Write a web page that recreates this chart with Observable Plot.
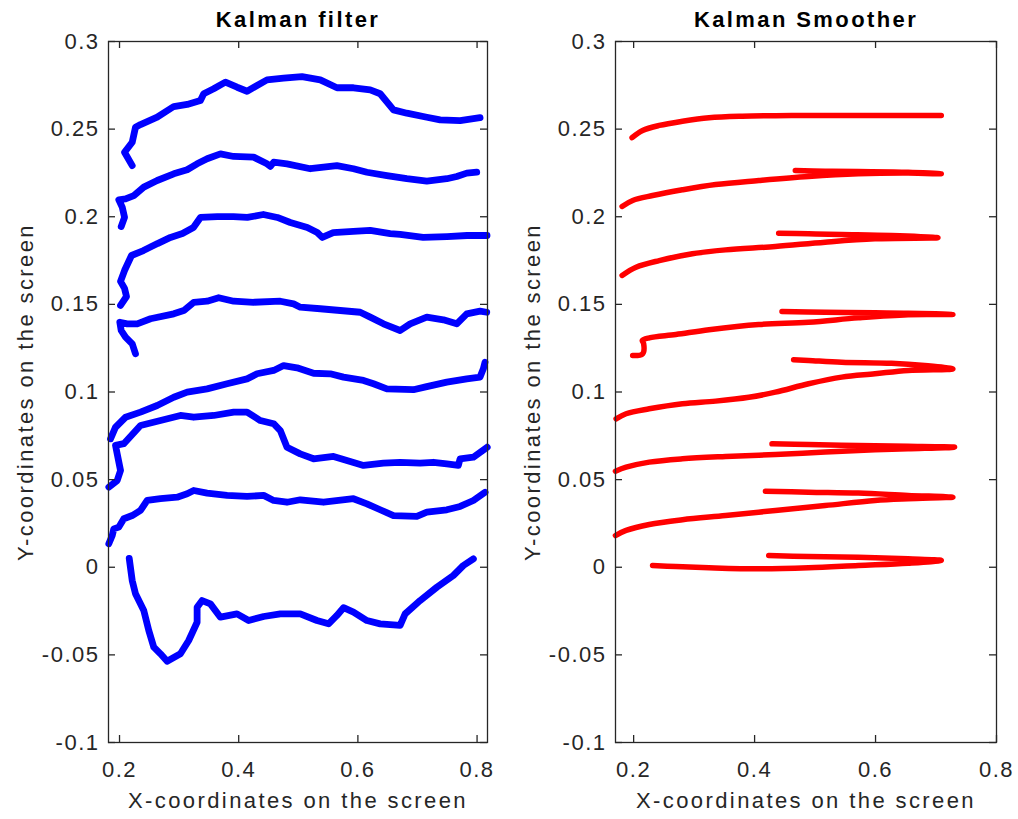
<!DOCTYPE html>
<html><head><meta charset="utf-8">
<script src="https://cdn.jsdelivr.net/npm/d3@7"></script>
<script src="https://cdn.jsdelivr.net/npm/@observablehq/plot@0.6"></script>
<style>
body{margin:0;background:#fff;}
#wrap{display:flex;width:1018px;height:819px;overflow:hidden;}
#wrap svg text{letter-spacing:2.4px;}
#wrap svg g[aria-label$="tick label"] text{letter-spacing:1.5px;}
</style></head><body><div id="wrap"></div>
<script>
const xTicks=[0.2,0.4,0.6,0.8];
const xTickLabels=["0.2","0.4","0.6","0.8"];
const yTicks=[-0.1,-0.05,0,0.05,0.1,0.15,0.2,0.25,0.3];
const yTickLabels=["-0.1","-0.05","0","0.05","0.1","0.15","0.2","0.25","0.3"];
const filterTitle="Kalman filter";
const smootherTitle="Kalman Smoother";
const xLabel="X-coordinates on the screen";
const yLabel="Y-coordinates on the screen";
const filterXDomain=[0.1815,0.8175];
const smootherXDomain=[0.17,0.8];
const yDomain=[-0.1,0.3];

const filter1=[[0.2213,0.2292],[0.2084,0.2368],[0.2213,0.2425],[0.2268,0.2511],[0.2352,0.2526],[0.2632,0.2568],[0.2910,0.2629],[0.3135,0.2641],[0.3358,0.2663],[0.3413,0.2702],[0.3580,0.2730],[0.3777,0.2768],[0.3973,0.2739],[0.4140,0.2716],[0.4308,0.2749],[0.4475,0.2781],[0.4754,0.2791],[0.5062,0.2800],[0.5369,0.2781],[0.5649,0.2736],[0.5927,0.2736],[0.6207,0.2724],[0.6374,0.2702],[0.6597,0.2610],[0.6822,0.2591],[0.7157,0.2568],[0.7380,0.2553],[0.7715,0.2549],[0.8050,0.2565]];
const filter2=[[0.2028,0.1944],[0.2084,0.1997],[0.2045,0.2055],[0.1988,0.2097],[0.2101,0.2102],[0.2240,0.2121],[0.2407,0.2169],[0.2632,0.2207],[0.2910,0.2245],[0.3135,0.2268],[0.3302,0.2302],[0.3470,0.2331],[0.3693,0.2359],[0.3916,0.2344],[0.4251,0.2340],[0.4475,0.2302],[0.4531,0.2287],[0.4586,0.2311],[0.4810,0.2302],[0.5201,0.2274],[0.5648,0.2292],[0.5926,0.2274],[0.6151,0.2254],[0.6486,0.2235],[0.6821,0.2217],[0.7157,0.2203],[0.7492,0.2217],[0.7659,0.2230],[0.7827,0.2249],[0.7994,0.2254]];
const filter3=[[0.2017,0.1494],[0.2117,0.1545],[0.2084,0.1591],[0.2017,0.1631],[0.2084,0.1693],[0.2201,0.1779],[0.2402,0.1807],[0.2637,0.1847],[0.2855,0.1882],[0.3056,0.1904],[0.3240,0.1939],[0.3358,0.1996],[0.3642,0.2001],[0.3911,0.2001],[0.4145,0.1996],[0.4413,0.2013],[0.4648,0.1996],[0.4866,0.1967],[0.5151,0.1939],[0.5318,0.1910],[0.5402,0.1882],[0.5586,0.1910],[0.5922,0.1916],[0.6207,0.1922],[0.6542,0.1904],[0.6709,0.1899],[0.7095,0.1882],[0.7497,0.1887],[0.7832,0.1893],[0.8167,0.1893]];
const filter4=[[0.2268,0.1218],[0.2213,0.1275],[0.2101,0.1313],[0.2028,0.1351],[0.2005,0.1398],[0.2129,0.1389],[0.2297,0.1389],[0.2520,0.1418],[0.2910,0.1446],[0.3078,0.1465],[0.3245,0.1512],[0.3470,0.1518],[0.3664,0.1538],[0.3916,0.1518],[0.4251,0.1512],[0.4698,0.1518],[0.4921,0.1503],[0.5033,0.1484],[0.5369,0.1475],[0.5704,0.1465],[0.6039,0.1455],[0.6207,0.1427],[0.6429,0.1389],[0.6709,0.1351],[0.6877,0.1389],[0.7156,0.1427],[0.7435,0.1412],[0.7659,0.1389],[0.7827,0.1446],[0.8050,0.1461],[0.8162,0.1455]];
const filter5=[[0.1849,0.0733],[0.1933,0.0799],[0.2101,0.0856],[0.2352,0.0885],[0.2632,0.0923],[0.2910,0.0970],[0.3135,0.0999],[0.3470,0.1018],[0.3805,0.1047],[0.4140,0.1075],[0.4308,0.1104],[0.4586,0.1123],[0.4754,0.1151],[0.4978,0.1138],[0.5256,0.1107],[0.5536,0.1104],[0.5759,0.1085],[0.6094,0.1066],[0.6262,0.1047],[0.6486,0.1018],[0.6932,0.1013],[0.7156,0.1031],[0.7492,0.1056],[0.7827,0.1075],[0.8050,0.1085],[0.8105,0.1132],[0.8134,0.1170]];
const filter6=[[0.1821,0.0457],[0.1961,0.0495],[0.2017,0.0552],[0.1961,0.0647],[0.1933,0.0695],[0.2072,0.0705],[0.2352,0.0809],[0.2687,0.0837],[0.3022,0.0866],[0.3245,0.0856],[0.3580,0.0866],[0.3916,0.0885],[0.4140,0.0885],[0.4363,0.0837],[0.4586,0.0819],[0.4698,0.0780],[0.4810,0.0685],[0.5033,0.0647],[0.5256,0.0619],[0.5591,0.0632],[0.5815,0.0609],[0.6094,0.0581],[0.6429,0.0594],[0.6709,0.0599],[0.7044,0.0594],[0.7268,0.0599],[0.7492,0.0590],[0.7686,0.0581],[0.7715,0.0619],[0.7938,0.0628],[0.8170,0.0685]];
const filter7=[[0.1820,0.0134],[0.1878,0.0181],[0.1904,0.0219],[0.1988,0.0229],[0.2072,0.0277],[0.2213,0.0295],[0.2352,0.0324],[0.2464,0.0381],[0.2687,0.0391],[0.2967,0.0400],[0.3135,0.0419],[0.3245,0.0438],[0.3470,0.0423],[0.3805,0.0410],[0.4140,0.0404],[0.4418,0.0410],[0.4586,0.0381],[0.4810,0.0371],[0.5033,0.0385],[0.5424,0.0371],[0.5926,0.0391],[0.6151,0.0362],[0.6374,0.0328],[0.6597,0.0295],[0.6989,0.0290],[0.7157,0.0314],[0.7492,0.0328],[0.7715,0.0347],[0.7938,0.0381],[0.8134,0.0428]];
const filter8=[[0.2163,0.0050],[0.2213,-0.0076],[0.2268,-0.0151],[0.2407,-0.0247],[0.2491,-0.0361],[0.2575,-0.0456],[0.2687,-0.0494],[0.2799,-0.0536],[0.3022,-0.0494],[0.3161,-0.0418],[0.3302,-0.0314],[0.3302,-0.0228],[0.3386,-0.0190],[0.3525,-0.0209],[0.3693,-0.0285],[0.3972,-0.0266],[0.4167,-0.0304],[0.4418,-0.0281],[0.4698,-0.0266],[0.5033,-0.0266],[0.5313,-0.0304],[0.5508,-0.0323],[0.5648,-0.0275],[0.5759,-0.0231],[0.5926,-0.0256],[0.6151,-0.0304],[0.6374,-0.0323],[0.6709,-0.0332],[0.6793,-0.0266],[0.7044,-0.0190],[0.7324,-0.0114],[0.7602,-0.0047],[0.7770,0.0010],[0.7938,0.0048]];

const smoother1=[[0.1974,0.2451],[0.2148,0.2492],[0.2423,0.2521],[0.2807,0.2545],[0.3246,0.2565],[0.3794,0.2574],[0.4617,0.2578],[0.5440,0.2578],[0.6264,0.2578],[0.7087,0.2578]];
const smoother2=[[0.1809,0.2059],[0.1984,0.2093],[0.2313,0.2121],[0.2807,0.2154],[0.3356,0.2184],[0.4069,0.2207],[0.4892,0.2230],[0.5715,0.2245],[0.6538,0.2249],[0.7087,0.2245],[0.6538,0.2254],[0.5715,0.2258],[0.5167,0.2260],[0.4673,0.2264]];
const smoother3=[[0.1809,0.1665],[0.2040,0.1712],[0.2423,0.1750],[0.2971,0.1789],[0.3521,0.1811],[0.4344,0.1830],[0.5167,0.1855],[0.5990,0.1874],[0.7032,0.1880],[0.6264,0.1893],[0.5440,0.1899],[0.4892,0.1903],[0.4398,0.1906]];
const smoother4=[[0.1984,0.1208],[0.2148,0.1218],[0.2165,0.1277],[0.2143,0.1294],[0.2258,0.1309],[0.2698,0.1328],[0.3246,0.1355],[0.4069,0.1385],[0.4892,0.1398],[0.5715,0.1423],[0.6538,0.1441],[0.7279,0.1442],[0.6538,0.1450],[0.5990,0.1452],[0.5167,0.1455],[0.4453,0.1459]];
const smoother5=[[0.1710,0.0847],[0.1875,0.0876],[0.2258,0.0904],[0.2807,0.0933],[0.3356,0.0948],[0.3905,0.0970],[0.4344,0.0999],[0.4892,0.1047],[0.5440,0.1085],[0.5990,0.1104],[0.6538,0.1123],[0.7279,0.1132],[0.6813,0.1151],[0.6264,0.1164],[0.5440,0.1170],[0.4892,0.1180],[0.4645,0.1184]];
const smoother6=[[0.1699,0.0548],[0.1875,0.0571],[0.2258,0.0600],[0.2807,0.0619],[0.3521,0.0632],[0.4344,0.0643],[0.5167,0.0657],[0.5990,0.0670],[0.6538,0.0676],[0.7307,0.0685],[0.6538,0.0691],[0.5715,0.0695],[0.4892,0.0700],[0.4288,0.0704]];
const smoother7=[[0.1699,0.0181],[0.1875,0.0210],[0.2258,0.0244],[0.2807,0.0271],[0.3521,0.0295],[0.4344,0.0324],[0.5167,0.0352],[0.5990,0.0381],[0.6538,0.0391],[0.7279,0.0400],[0.6538,0.0410],[0.5715,0.0423],[0.4892,0.0428],[0.4179,0.0434]];
const smoother8=[[0.2313,0.0010],[0.2698,0.0004],[0.3246,-0.0003],[0.4069,-0.0009],[0.4892,-0.0003],[0.5715,0.0010],[0.6538,0.0023],[0.7087,0.0039],[0.6538,0.0048],[0.5715,0.0057],[0.4892,0.0061],[0.4234,0.0067]];

const filterTracks=[filter1,filter2,filter3,filter4,filter5,filter6,filter7,filter8];
const smootherTracks=[smoother1,smoother2,smoother3,smoother4,smoother5,smoother6,smoother7,smoother8];

function panel({title,xDomain,tracks,color,strokeWidth,curve,width,marginLeft,marginRight}){
  const rows=tracks.flatMap((t,i)=>t.map(([x,y])=>({x,y,track:i})));
  const H=819, mt=41, mb=77;
  const plotH=H-mt-mb, plotW=width-marginLeft-marginRight, tl=7;
  const ax="#262626";
  return Plot.plot({
    width,height:H,marginLeft,marginRight,marginTop:mt,marginBottom:mb,
    style:{fontFamily:"'Liberation Sans', Arial, sans-serif",fontSize:"22px",color:ax,background:"#fff",overflow:"visible"},
    x:{domain:xDomain},
    y:{domain:yDomain},
    marks:[
      Plot.line(rows,{x:"x",y:"y",z:"track",stroke:color,strokeWidth,curve,strokeLinecap:"round",strokeLinejoin:"round"}),
      Plot.frame({stroke:ax,strokeWidth:1.3}),
      Plot.tickX(xTicks,{x:d=>d,insetTop:plotH-tl,stroke:ax,strokeWidth:1.3}),
      Plot.tickX(xTicks,{x:d=>d,insetBottom:plotH-tl,stroke:ax,strokeWidth:1.3}),
      Plot.tickY(yTicks,{y:d=>d,insetRight:plotW-tl,stroke:ax,strokeWidth:1.3}),
      Plot.tickY(yTicks,{y:d=>d,insetLeft:plotW-tl,stroke:ax,strokeWidth:1.3}),
      Plot.axisX({ticks:xTicks,tickFormat:d=>xTickLabels[xTicks.indexOf(d)],tickSize:0,tickPadding:19,fontSize:22,label:null}),
      Plot.axisY({ticks:yTicks,tickFormat:d=>yTickLabels[yTicks.indexOf(d)],tickSize:0,tickPadding:9,fontSize:22,label:null}),
      Plot.text([title],{text:d=>d,frameAnchor:"top",lineAnchor:"middle",textAnchor:"middle",dy:-22,fontWeight:"bold",fontSize:22,fill:"#000"}),
      Plot.text([xLabel],{text:d=>d,frameAnchor:"bottom",lineAnchor:"middle",textAnchor:"middle",dy:58,fontSize:22,fill:ax}),
      Plot.text([yLabel],{text:d=>d,frameAnchor:"left",lineAnchor:"middle",textAnchor:"middle",dx:-83,rotate:-90,fontSize:22,fill:ax})
    ]
  });
}

const wrap=document.getElementById("wrap");
wrap.appendChild(panel({title:filterTitle,xDomain:filterXDomain,tracks:filterTracks,color:"#0000ff",strokeWidth:6.8,curve:"linear",width:509,marginLeft:108,marginRight:22}));
wrap.appendChild(panel({title:smootherTitle,xDomain:smootherXDomain,tracks:smootherTracks,color:"#ff0000",strokeWidth:5.5,curve:"catmull-rom",width:509,marginLeft:106,marginRight:22}));
</script></body></html>
